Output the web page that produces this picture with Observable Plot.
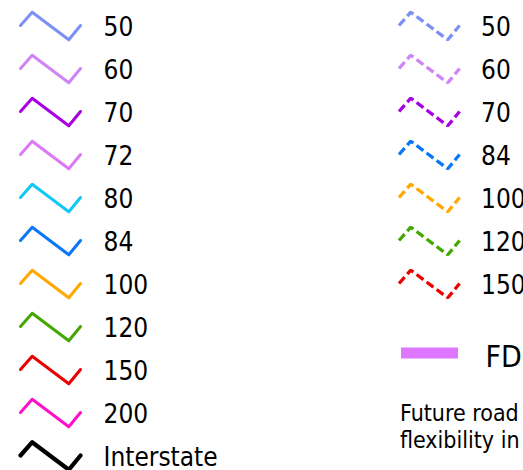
<!DOCTYPE html>
<html>
<head>
<meta charset="utf-8">
<script src="https://cdn.jsdelivr.net/npm/d3@7"></script>
<script src="https://cdn.jsdelivr.net/npm/@observablehq/plot@0.6"></script>
<style>
  html, body { margin: 0; padding: 0; background: #fff; overflow: hidden; }
  svg { font-family: "DejaVu Sans Condensed", "DejaVu Sans", sans-serif; font-stretch: condensed; }
</style>
</head>
<body>
<div id="chart"></div>
<script>
// Legend entries (solid lines, left column)
const solidLabels = ["50", "60", "70", "72", "80", "84", "100", "120", "150", "200", "Interstate"];
const solidColors = ["#7b90f5", "#cf85f5", "#a800e0", "#dc79f7", "#10c8f5", "#0a77f7", "#ffa800", "#44a800", "#ea0000", "#ff10c8", "#000000"];
// Legend entries (dashed lines, right column)
const dashedLabels = ["50", "60", "70", "84", "100", "120", "150"];
const dashedColors = ["#7b90f5", "#cf85f5", "#a800e0", "#0a77f7", "#ffa800", "#44a800", "#ea0000"];
// Bar swatch and note
const barLabel = "FDOT";
const barColor = "#dd77ff";
const noteLines = ["Future road", "flexibility in"];

// Layout
const W = 523, H = 470;
const rowTop = 25, rowStep = 43;
const glyph = [[0, 0], [11.7, -13.3], [48.3, 14.3], [60, 0]];
const solidX = 20, dashedX = 398.5;
const solidTextX = 103, dashedTextX = 480.5;

const rowY = i => rowTop + i * rowStep;

const solidLines = solidLabels.flatMap((label, i) =>
  glyph.map(([dx, dy]) => ({x: solidX + dx, y: rowY(i) + dy, key: "s" + i, color: solidColors[i], w: label === "Interstate" ? 4.2 : 3}))
);
const dashedLines = dashedLabels.flatMap((label, i) =>
  glyph.map(([dx, dy]) => ({x: dashedX + dx * 1.01, y: rowY(i) + dy, key: "d" + i, color: dashedColors[i]}))
);
const solidText = solidLabels.map((label, i) => ({x: solidTextX, y: rowY(i) + 10.8, label}));
const dashedText = dashedLabels.map((label, i) => ({x: dashedTextX, y: rowY(i) + 10.8, label}));

const barRow = {x1: 401, x2: 458, y: 352.5, label: barLabel, color: barColor};
const notes = noteLines.map((t, i) => ({x: 399.5, y: 420 + i * 27, label: t}));

const plot = Plot.plot({
  width: W,
  height: H,
  margin: 0,
  x: {domain: [0, W], range: [0, W], axis: null},
  y: {domain: [0, H], range: [0, H], axis: null},
  color: {type: "identity"},
  marks: [
    Plot.line(solidLines.filter(d => d.w === 3), {x: "x", y: "y", z: "key", stroke: "color", strokeWidth: 3, strokeLinecap: "round", strokeLinejoin: "round", curve: "linear"}),
    Plot.line(solidLines.filter(d => d.w !== 3), {x: "x", y: "y", z: "key", stroke: "color", strokeWidth: 4.2, strokeLinecap: "round", strokeLinejoin: "round", curve: "linear"}),
    Plot.line(dashedLines, {x: "x", y: "y", z: "key", stroke: "color", strokeWidth: 3.3, strokeDasharray: "8.5,4", strokeLinecap: "butt", strokeLinejoin: "miter", curve: "linear"}),
    Plot.text(solidText, {x: "x", y: "y", text: "label", textAnchor: "start", lineAnchor: "bottom", fontSize: 26, fill: "#000"}),
    Plot.text(dashedText, {x: "x", y: "y", text: "label", textAnchor: "start", lineAnchor: "bottom", fontSize: 26, fill: "#000"}),
    Plot.ruleY([barRow], {x1: "x1", x2: "x2", y: "y", stroke: "color", strokeWidth: 11}),
    Plot.text([barRow], {x: 485, y: 366.5, text: "label", textAnchor: "start", lineAnchor: "bottom", fontSize: 30, fill: "#000"}),
    Plot.text(notes, {x: "x", y: "y", text: "label", textAnchor: "start", lineAnchor: "bottom", fontSize: 23, fill: "#000"})
  ]
});
document.getElementById("chart").appendChild(plot);
</script>
</body>
</html>
